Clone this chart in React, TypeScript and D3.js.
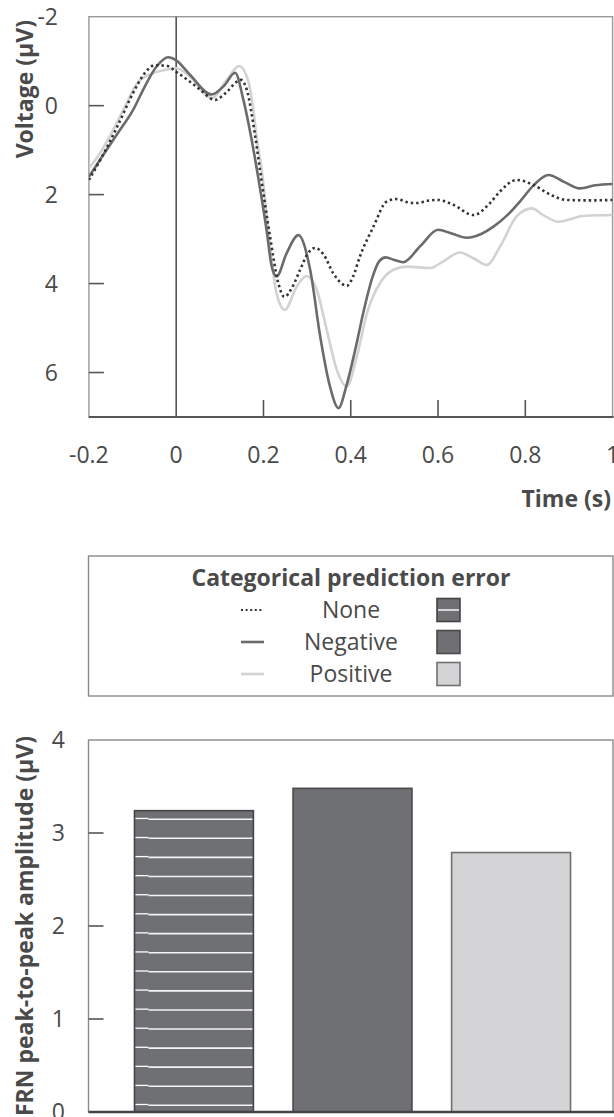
import React from "react";
import * as d3 from "d3";

// ---------- Data ----------
const xTicks = [-0.2, 0, 0.2, 0.4, 0.6, 0.8, 1];
const yTicks = [-2, 0, 2, 4, 6];

const noneT = [-0.2, -0.17, -0.134, -0.099, -0.072, -0.049, -0.02, 0.0, 0.03, 0.055, 0.089, 0.115, 0.139, 0.148, 0.162, 0.18, 0.192, 0.215, 0.234, 0.248, 0.265, 0.284, 0.3, 0.318, 0.338, 0.36, 0.391, 0.405, 0.421, 0.452, 0.482, 0.505, 0.53, 0.551, 0.575, 0.6, 0.635, 0.681, 0.719, 0.742, 0.78, 0.818, 0.857, 0.895, 0.95, 1.0];
const noneV = [1.67, 1.15, 0.45, -0.28, -0.73, -0.91, -0.89, -0.76, -0.55, -0.36, -0.13, -0.3, -0.54, -0.58, -0.35, 0.62, 1.44, 2.94, 3.99, 4.3, 4.1, 3.69, 3.35, 3.2, 3.35, 3.77, 4.05, 3.85, 3.39, 2.72, 2.16, 2.1, 2.17, 2.19, 2.14, 2.12, 2.23, 2.46, 2.19, 1.93, 1.67, 1.78, 2.0, 2.12, 2.13, 2.12];

const negT = [-0.2, -0.17, -0.134, -0.099, -0.072, -0.045, -0.018, 0.0, 0.032, 0.081, 0.11, 0.135, 0.154, 0.173, 0.185, 0.207, 0.219, 0.23, 0.253, 0.28, 0.307, 0.33, 0.352, 0.372, 0.39, 0.41, 0.43, 0.45, 0.465, 0.48, 0.5, 0.52, 0.56, 0.6, 0.63, 0.666, 0.7, 0.727, 0.76, 0.788, 0.82, 0.853, 0.89, 0.925, 0.96, 1.0];
const negV = [1.6, 1.15, 0.62, 0.1, -0.43, -0.88, -1.09, -1.02, -0.69, -0.25, -0.45, -0.74, -0.13, 0.77, 1.44, 2.79, 3.62, 3.84, 3.32, 2.91, 3.69, 5.19, 6.3, 6.8, 6.3, 5.5, 4.6, 3.85, 3.5, 3.41, 3.47, 3.52, 3.15, 2.79, 2.87, 2.97, 2.88, 2.72, 2.45, 2.15, 1.78, 1.56, 1.72, 1.86, 1.79, 1.76];

const posT = [-0.2, -0.17, -0.153, -0.117, -0.09, -0.063, -0.027, 0.0, 0.032, 0.081, 0.116, 0.144, 0.162, 0.177, 0.185, 0.196, 0.215, 0.23, 0.249, 0.276, 0.299, 0.322, 0.345, 0.368, 0.391, 0.414, 0.437, 0.467, 0.498, 0.528, 0.582, 0.612, 0.65, 0.681, 0.712, 0.742, 0.78, 0.815, 0.841, 0.876, 0.933, 1.0];
const posV = [1.41, 1.0, 0.7, 0.02, -0.5, -0.69, -0.8, -0.84, -0.65, -0.17, -0.58, -0.89, -0.65, 0.1, 0.77, 1.44, 3.17, 4.22, 4.59, 4.07, 3.83, 4.14, 5.04, 5.94, 6.31, 5.64, 4.67, 3.99, 3.69, 3.62, 3.65, 3.5, 3.3, 3.43, 3.58, 3.17, 2.49, 2.31, 2.46, 2.61, 2.48, 2.46];

const categories = ["None", "Negative", "Positive"];
const amplitudes = [3.24, 3.48, 2.79];
const barTicks = [0, 1, 2, 3, 4];

// ---------- Styles ----------
const FONT = "'Open Sans', 'Noto Sans', sans-serif";
const TXT = "#4a4a4a";
const lineStyles: Record<string, { stroke: string; dash?: string; width: number }> = {
  None: { stroke: "#333333", dash: "2.4,3", width: 2.6 },
  Negative: { stroke: "#6b6b6e", width: 2.6 },
  Positive: { stroke: "#d2d2d2", width: 2.6 },
};
const barFill: Record<string, string> = { None: "#6f7074", Negative: "#6f7074", Positive: "#d4d4d6" };
const barStroke: Record<string, string> = { None: "#444444", Negative: "#4a4a4a", Positive: "#707070" };

export default function App() {
  // Top chart
  const L = 88.9, R = 612.6, T = 16.7, B = 417;
  const x = d3.scaleLinear().domain([-0.2, 1]).range([L, R]);
  const y = d3.scaleLinear().domain([-2, 7]).range([T, B]);
  const line = d3
    .line<[number, number]>()
    .x((d) => x(d[0]))
    .y((d) => y(d[1]))
    .curve(d3.curveMonotoneX);
  const series: [string, number[], number[]][] = [
    ["Positive", posT, posV],
    ["Negative", negT, negV],
    ["None", noneT, noneV],
  ];

  // Bar chart
  const BL = 88.5, BR = 613, BT = 740, BB = 1112;
  const by = d3.scaleLinear().domain([0, 4]).range([BB, BT]);
  const bx = d3.scaleBand<string>().domain(categories).range([BL, 616.5]).paddingInner(0.25).paddingOuter(0.29);
  const bw = bx.bandwidth();

  // Legend
  const LT = 556, LB = 696;
  const legCx = 351;
  const rowY = [610, 642, 674];

  const stripeGap = 19.07;

  return (
    <div style={{ position: "absolute", left: 0, top: 0 }}>
      <svg width={614} height={1117} style={{ display: "block", fontFamily: FONT }}>
        <defs>
          <clipPath id="plotclip">
            <rect x={L} y={T} width={R - L} height={B - T} />
          </clipPath>
        </defs>
        {/* ---------- Top chart ---------- */}
        <rect x={L} y={T} width={R - L} height={B - T} fill="none" stroke="#9a9a9a" strokeWidth={1.4} />
        <line x1={L} x2={R + 1} y1={B} y2={B} stroke="#555" strokeWidth={2} />
        <line x1={x(0)} x2={x(0)} y1={T} y2={B} stroke="#555" strokeWidth={1.6} />
        {yTicks.map((v) => (
          <g key={"yt" + v}>
            {v !== -2 && <line x1={L} x2={L + 15} y1={y(v)} y2={y(v)} stroke="#555" strokeWidth={1.6} />}
            <text x={58} y={y(v)} dy="0.36em" textAnchor="end" fontSize={23} fill={TXT}>
              {String(v).replace("-", "-")}
            </text>
          </g>
        ))}
        {xTicks.map((t) => (
          <g key={"xt" + t}>
            {t !== -0.2 && t !== 0 && t !== 1 && (
              <line x1={x(t)} x2={x(t)} y1={B} y2={B - 17} stroke="#555" strokeWidth={1.6} />
            )}
            <text x={x(t)} y={463} textAnchor="middle" fontSize={23} fill={TXT}>
              {String(t)}
            </text>
          </g>
        ))}
        <g clipPath="url(#plotclip)">
          {series.map(([name, ts, vs]) => {
            const st = lineStyles[name];
            const pts = ts.map((t, i) => [t, vs[i]] as [number, number]);
            return (
              <path
                key={name}
                d={line(pts) || ""}
                fill="none"
                stroke={st.stroke}
                strokeWidth={st.width}
                strokeDasharray={st.dash}
              />
            );
          })}
        </g>
        <text x={611} y={507} textAnchor="end" fontSize={23} fontWeight="bold" fill={TXT}>
          Time (s)
        </text>
        <text transform={`translate(33,20) rotate(-90)`} textAnchor="end" fontSize={23} fontWeight="bold" fill={TXT}>
          Voltage (μV)
        </text>

        {/* ---------- Legend ---------- */}
        <rect x={BL} y={LT} width={BR - BL} height={LB - LT} fill="none" stroke="#8a8a8a" strokeWidth={1.4} />
        <text x={legCx} y={586} textAnchor="middle" fontSize={23} fontWeight="bold" fill={TXT}>
          Categorical prediction error
        </text>
        {categories.map((c, i) => {
          const st = lineStyles[c];
          const ry = rowY[i];
          return (
            <g key={"leg" + c}>
              <line x1={241} x2={264} y1={ry} y2={ry} stroke={st.stroke} strokeWidth={st.dash ? 2.2 : 2.6} strokeDasharray={st.dash ? "2,2.6" : undefined} />
              <text x={legCx} y={ry} dy="0.36em" textAnchor="middle" fontSize={23} fill={TXT}>
                {c}
              </text>
              <rect x={437} y={ry - 11.5} width={23} height={23} fill={barFill[c]} stroke={barStroke[c]} strokeWidth={1.6} />
              {c === "None" && <line x1={438} x2={459} y1={ry} y2={ry} stroke="#fff" strokeWidth={1.4} />}
            </g>
          );
        })}

        {/* ---------- Bar chart ---------- */}
        <rect x={BL} y={BT} width={BR - BL} height={BB - BT} fill="none" stroke="#8a8a8a" strokeWidth={1.4} />
        {barTicks.map((v) => (
          <g key={"bt" + v}>
            {v !== 0 && v !== 4 && <line x1={BL} x2={BL + 15} y1={by(v)} y2={by(v)} stroke="#555" strokeWidth={1.6} />}
            <text x={65} y={by(v)} dy="0.36em" textAnchor="end" fontSize={23} fill={TXT}>
              {v}
            </text>
          </g>
        ))}
        {categories.map((c, i) => {
          const x0 = bx(c) as number;
          const top = by(amplitudes[i]);
          const stripes: number[] = [];
          if (c === "None") {
            for (let s = BB - 6.7; s > top + 3; s -= stripeGap) stripes.push(s);
          }
          return (
            <g key={"bar" + c}>
              <rect x={x0} y={top} width={bw} height={BB - top} fill={barFill[c]} stroke={barStroke[c]} strokeWidth={1.6} />
              {stripes.map((s, k) => (
                <g key={k}>
                  <line x1={x0 + 1} x2={x0 + 14} y1={s - 0.8} y2={s - 0.8} stroke="#fff" strokeWidth={1.3} />
                  <line x1={x0 + 14} x2={x0 + bw - 1} y1={s} y2={s} stroke="#f4f4f4" strokeWidth={1.6} />
                </g>
              ))}
            </g>
          );
        })}
        <line x1={BL} x2={BR + 1} y1={BB} y2={BB} stroke="#444" strokeWidth={2.4} />
        <text
          transform={`translate(33,${(BT + BB) / 2}) rotate(-90)`}
          textAnchor="middle"
          fontSize={23}
          fontWeight="bold"
          fill={TXT}
        >
          FRN peak-to-peak amplitude (μV)
        </text>
      </svg>
    </div>
  );
}
